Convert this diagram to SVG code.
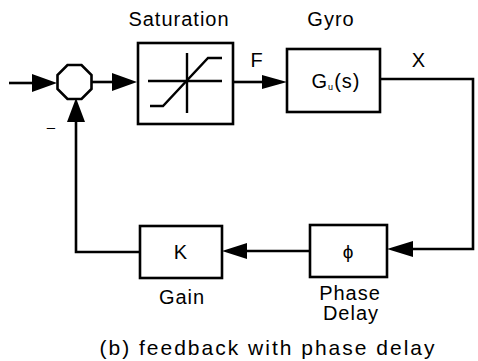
<svg xmlns="http://www.w3.org/2000/svg" width="478" height="361" viewBox="0 0 478 361">
<style>
.box{fill:#fff;stroke:#000;stroke-width:2.6}
.ln{fill:none;stroke:#000;stroke-width:2.6}
.thin{fill:none;stroke:#000;stroke-width:2.4}
.ah{fill:#000;stroke:none}
text{font-family:"Liberation Sans","DejaVu Sans",Arial,sans-serif;fill:#000}
.lbl{font-size:20px;letter-spacing:1px}
.cap{font-size:21px;letter-spacing:2px}
</style>
<rect width="478" height="361" fill="#fff"/>
<g id="connectors">
<line class="ln" x1="9" y1="83" x2="34" y2="83"/>
<polygon class="ah" points="32,74 57,83 32,92"/>
<line class="ln" x1="92" y1="82" x2="114" y2="82"/>
<polygon class="ah" points="112,73 137,82 112,91"/>
<line class="ln" x1="233" y1="82" x2="264" y2="82"/>
<polygon class="ah" points="262,75 287,82 262,89"/>
<polyline class="ln" points="380,79 473,79 473,249 411,249"/>
<polygon class="ah" points="413,241 387,249 413,257"/>
<line class="ln" x1="310" y1="251" x2="245" y2="251"/>
<polygon class="ah" points="247,243 222,251 247,259"/>
<polyline class="ln" points="140,252 76,252 76,120"/>
<polygon class="ah" points="67,122 76,98 85,122"/>
<text x="51" y="132" font-size="15" text-anchor="middle">–</text>
<text x="257" y="67" class="lbl" text-anchor="middle" font-size="18">F</text>
<text x="419" y="67" class="lbl" text-anchor="middle">X</text>
</g>
<g id="sum">
<polygon class="ln" stroke-width="3" points="67.5,65 81.5,65 91.5,75 91.5,89 81.5,99 67.5,99 57.5,89 57.5,75"/>
</g>
<g id="saturation">
<rect class="box" x="138" y="43" width="95" height="81"/>
<line class="thin" x1="148" y1="81" x2="222" y2="81"/>
<line class="thin" x1="187" y1="53" x2="187" y2="113"/>
<polyline class="thin" points="150,106 163,106 208,58 222,58"/>
<text x="179" y="26" class="lbl" text-anchor="middle" font-size="21">Saturation</text>
</g>
<g id="gyro">
<rect class="box" x="287" y="49" width="93" height="63"/>
<text x="336" y="88" class="lbl" text-anchor="middle">G<tspan font-size="9" dy="2">u</tspan><tspan dy="-2">(s)</tspan></text>
<text x="331" y="26" class="lbl" text-anchor="middle" font-size="21">Gyro</text>
</g>
<g id="phase">
<rect class="box" x="310" y="225" width="77" height="52"/>
<text x="348" y="258" font-size="19" text-anchor="middle" font-family="DejaVu Sans,sans-serif">ϕ</text>
<text x="350" y="300" class="lbl" text-anchor="middle" font-size="17" letter-spacing="1.5">Phase</text>
<text x="351" y="320" class="lbl" text-anchor="middle" font-size="17" letter-spacing="1.5">Delay</text>
</g>
<g id="gain">
<rect class="box" x="140" y="226" width="82" height="52"/>
<text x="181" y="259" class="lbl" text-anchor="middle">K</text>
<text x="182" y="304" class="lbl" text-anchor="middle">Gain</text>
</g>
<text x="268" y="355" class="cap" text-anchor="middle">(b) feedback with phase delay</text>
</svg>
